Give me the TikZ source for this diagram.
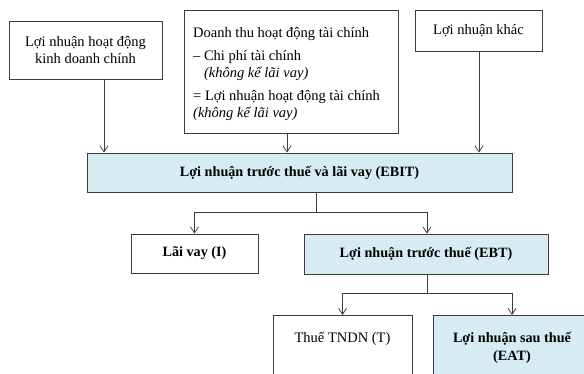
\documentclass[tikz,border=0pt]{standalone}
\usepackage{fontspec}
\setmainfont{Liberation Serif}
\usetikzlibrary{arrows.meta}
\definecolor{boxblue}{RGB}{214,236,242}
\definecolor{edge}{RGB}{60,60,60}
\tikzset{
  box/.style={draw=edge, line width=0.8pt, inner sep=0pt, align=center,
    font=\fontsize{14.5}{17.5}\selectfont},
  boldtext/.style={font=\fontsize{14.2}{17.5}\selectfont\bfseries},
  bluebox/.style={box, fill=boxblue, boldtext},
  link/.style={draw=edge, line width=0.8pt},
  arrowlink/.style={link, -{Straight Barb[length=6pt,width=8pt,line width=0.8pt]}}
}
\begin{document}
\begin{tikzpicture}[x=1pt,y=-1pt]
\useasboundingbox (0,0) rectangle (584,374);
\clip (0,0) rectangle (584,374);

% top row
\node[box, minimum width=153pt, minimum height=58pt] (main) at (85.5,50)
  {Lợi nhuận hoạt động\\kinh doanh chính};
\node[box, minimum width=214pt, minimum height=123pt] (fin) at (291,71.5) {};
\node[anchor=north west, inner sep=0pt, align=left,
      font=\fontsize{14.5}{17}\selectfont] (fintext) at (193,27)
  {Doanh thu hoạt động tài chính\\[6pt]
   – Chi phí tài chính\\
   \phantom{– }\textit{(không kể lãi vay)}\\[6pt]
   = Lợi nhuận hoạt động tài chính\\
   \textit{(không kể lãi vay)}};
\node[box, minimum width=127pt, minimum height=41pt] (other) at (478.5,30.5)
  {Lợi nhuận khác};

% EBIT
\node[bluebox, minimum width=425pt, minimum height=39pt] (ebit) at (299.5,172.5)
  {Lợi nhuận trước thuế và lãi vay (EBIT)};

% second level
\node[box, boldtext, minimum width=127pt, minimum height=39pt] (interest) at (194.5,253.5)
  {Lãi vay (I)};
\node[bluebox, minimum width=244pt, minimum height=40pt] (ebt) at (426,254)
  {Lợi nhuận trước thuế (EBT)};

% third level (boxes run past the lower edge)
\node[box, minimum width=139pt, minimum height=80pt, anchor=north] (tax) at (342.5,315) {};
\node[anchor=base, font=\fontsize{14.5}{17.5}\selectfont] (taxtext) at (342.5,342)
  {Thuế TNDN (T)};
\node[bluebox, minimum width=158pt, minimum height=80pt, anchor=north] (eat) at (512,315) {};
\node[anchor=north, inner sep=0pt, align=center, boldtext] (eattext) at (512,332)
  {Lợi nhuận sau thuế\\(EAT)};

% connectors into EBIT
\draw[arrowlink] (main.south -| 104,0) -- (ebit.north -| 104,0);
\draw[arrowlink] (fin.south -| 287,0) -- (ebit.north -| 287,0);
\draw[arrowlink] (other.south -| 479,0) -- (ebit.north -| 479,0);

% EBIT split
\coordinate (s1) at (316,212);
\draw[link] (ebit.south -| s1) -- (s1);
\draw[arrowlink] (s1) -| (interest.north);
\draw[arrowlink] (s1) -| (ebt.north -| 427,0);

% EBT split
\coordinate (s2) at (427,293);
\draw[link] (ebt.south -| s2) -- (s2);
\draw[arrowlink] (s2) -| (tax.north);
\draw[arrowlink] (s2) -| (eat.north);
\end{tikzpicture}
\end{document}
